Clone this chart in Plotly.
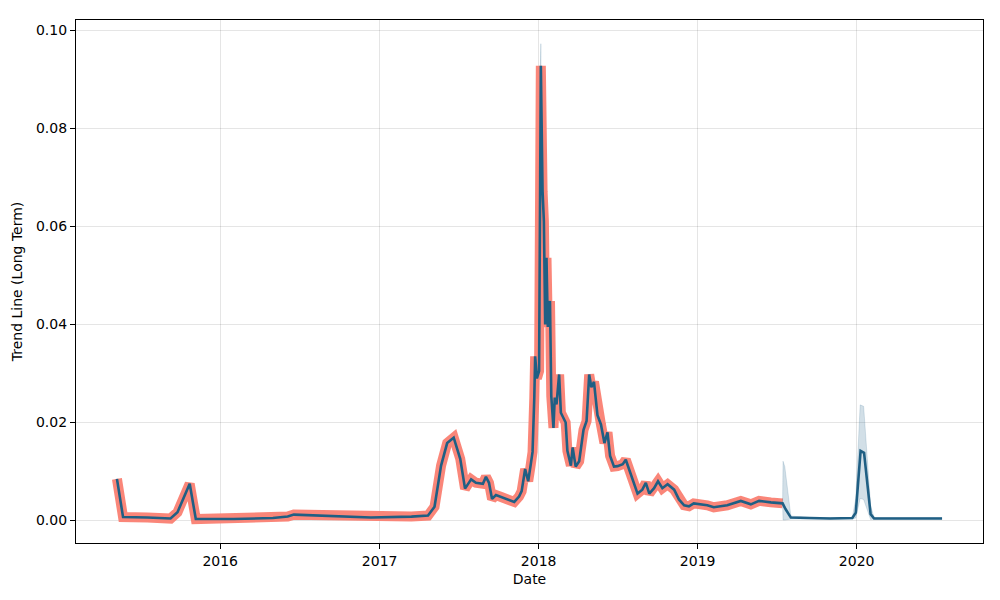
import plotly.graph_objects as go

# observed trend (history)
hist_dates = [
    "2015-05-09", "2015-05-23", "2015-07-18", "2015-09-09", "2015-09-25", "2015-10-23",
    "2015-11-06", "2016-02-01", "2016-05-01", "2016-06-04", "2016-06-18", "2016-08-26",
    "2016-12-12", "2017-03-15", "2017-04-22", "2017-05-07", "2017-05-22", "2017-06-05",
    "2017-06-20", "2017-07-05", "2017-07-16", "2017-07-30", "2017-08-10", "2017-08-26",
    "2017-09-02", "2017-09-09", "2017-09-16", "2017-09-25", "2017-10-07", "2017-10-22",
    "2017-11-06", "2017-11-17", "2017-11-23", "2017-12-01", "2017-12-08", "2017-12-14",
    "2017-12-18", "2017-12-22", "2017-12-24", "2017-12-28", "2018-01-02", "2018-01-06",
    "2018-01-10", "2018-01-13", "2018-01-16", "2018-01-19", "2018-01-22", "2018-01-27",
    "2018-01-30", "2018-02-04", "2018-02-07", "2018-02-11", "2018-02-17", "2018-02-21",
    "2018-03-04", "2018-03-08", "2018-03-16", "2018-03-20", "2018-03-27", "2018-04-04",
    "2018-04-14", "2018-04-21", "2018-04-27", "2018-05-02", "2018-05-08", "2018-05-16",
    "2018-05-24", "2018-06-01", "2018-06-08", "2018-06-14", "2018-06-23", "2018-07-01",
    "2018-07-13", "2018-07-20", "2018-07-28", "2018-08-08", "2018-08-16", "2018-08-27",
    "2018-09-04", "2018-09-12", "2018-09-23", "2018-10-02", "2018-10-12", "2018-10-24",
    "2018-11-08", "2018-11-19", "2018-12-01", "2018-12-12", "2018-12-23", "2019-01-23",
    "2019-02-07", "2019-03-10", "2019-04-10", "2019-05-03", "2019-05-22", "2019-06-18",
    "2019-07-15",
]
hist_values = [
    0.0085, 0.0007, 0.0006, 0.0004, 0.0017, 0.0075,
    0.0003, 0.0003, 0.0005, 0.0008, 0.0012, 0.0010,
    0.0006, 0.0008, 0.0010, 0.0028, 0.0112, 0.0158,
    0.0169, 0.0126, 0.0065, 0.0084, 0.0077, 0.0075,
    0.0089, 0.0077, 0.0044, 0.0052, 0.0048, 0.0042,
    0.0038, 0.0049, 0.0060, 0.0105, 0.0080, 0.0115,
    0.0140, 0.0250, 0.0335, 0.0290, 0.0305, 0.0928,
    0.0672, 0.0611, 0.0400, 0.0536, 0.0395, 0.0448,
    0.0254, 0.0189, 0.0251, 0.0237, 0.0298, 0.0220,
    0.0200, 0.0142, 0.0112, 0.0149, 0.0110, 0.0121,
    0.0185, 0.0203, 0.0298, 0.0272, 0.0283, 0.0215,
    0.0196, 0.0158, 0.0180, 0.0132, 0.0110, 0.0111,
    0.0115, 0.0124, 0.0104, 0.0074, 0.0055, 0.0063,
    0.0077, 0.0055, 0.0066, 0.0080, 0.0066, 0.0074,
    0.0063, 0.0043, 0.0031, 0.0029, 0.0035, 0.0031,
    0.0027, 0.0031, 0.0040, 0.0033, 0.0040, 0.0037,
    0.0035,
]

# forecast continuation
future_dates = [
    "2019-07-22", "2019-08-03", "2019-09-15", "2019-11-01", "2019-12-22", "2019-12-30",
    "2020-01-10", "2020-01-18", "2020-02-02", "2020-02-10", "2020-04-01", "2020-07-15",
]
future_values = [
    0.0023, 0.0006, 0.0005, 0.0004, 0.0005, 0.0016,
    0.0142, 0.0138, 0.0013, 0.0004, 0.0004, 0.0004,
]

# uncertainty interval
band_dates = [
    "2017-12-31", "2018-01-06", "2018-01-08",
    "2019-07-15", "2019-07-16", "2019-07-20", "2019-08-03", "2019-09-15", "2019-12-22",
    "2019-12-30", "2020-01-09", "2020-01-17", "2020-02-02", "2020-02-10", "2020-07-15",
]
band_upper = [
    0.0700, 0.0973, 0.0750,
    0.0038, 0.0121, 0.0110, 0.0009, 0.0006, 0.0006,
    0.0045, 0.0236, 0.0233, 0.0030, 0.0006, 0.0006,
]
band_lower = [
    0.0700, 0.0900, 0.0750,
    0.0032, 0.0001, 0.0001, 0.0003, 0.0003, 0.0003,
    0.0005, 0.0045, 0.0043, 0.0002, 0.0003, 0.0003,
]

fcst_dates = hist_dates + future_dates
fcst_values = hist_values + future_values

band_fill = "rgba(31,96,135,0.2)"

fig = go.Figure()
fig.add_trace(go.Scatter(x=band_dates[:3], y=band_lower[:3], mode="lines",
                         line=dict(width=0.8, color=band_fill), showlegend=False))
fig.add_trace(go.Scatter(x=band_dates[:3], y=band_upper[:3], mode="lines", fill="tonexty",
                         fillcolor=band_fill, line=dict(width=0.8, color=band_fill), showlegend=False))
fig.add_trace(go.Scatter(x=hist_dates, y=hist_values, mode="lines",
                         line=dict(color="rgba(250,128,114,0.95)", width=10), showlegend=False))
fig.add_trace(go.Scatter(x=band_dates[3:], y=band_lower[3:], mode="lines",
                         line=dict(width=0.8, color=band_fill), showlegend=False))
fig.add_trace(go.Scatter(x=band_dates[3:], y=band_upper[3:], mode="lines", fill="tonexty",
                         fillcolor=band_fill, line=dict(width=0.8, color=band_fill), showlegend=False))
fig.add_trace(go.Scatter(x=fcst_dates, y=fcst_values, mode="lines",
                         line=dict(color="#1f5f84", width=2.6), showlegend=False))

axis_style = dict(
    showline=True, linecolor="black", linewidth=1.2, mirror=True,
    ticks="outside", ticklen=5, tickcolor="black", automargin=False,
    showgrid=True, gridcolor="rgba(0,0,0,0.1)", gridwidth=1,
    zeroline=False, tickfont=dict(family="DejaVu Sans", size=14, color="black"),
)

fig.update_layout(
    width=1000, height=600,
    margin=dict(l=68, r=25, t=12, b=65),
    plot_bgcolor="white", paper_bgcolor="white",
    font=dict(family="DejaVu Sans", size=14, color="black"),
    xaxis=dict(axis_style, range=["2015-02-04", "2020-10-17"], dtick="M12",
               tick0="2016-01-01", tickformat="%Y",
               title=dict(text="Date", standoff=6, font=dict(size=14))),
    yaxis=dict(axis_style, range=[-0.00459, 0.10214], dtick=0.02, tickformat=".2f",
               title=dict(text="Trend Line (Long Term)", standoff=10, font=dict(size=14))),
)

fig.write_html("out.html")
